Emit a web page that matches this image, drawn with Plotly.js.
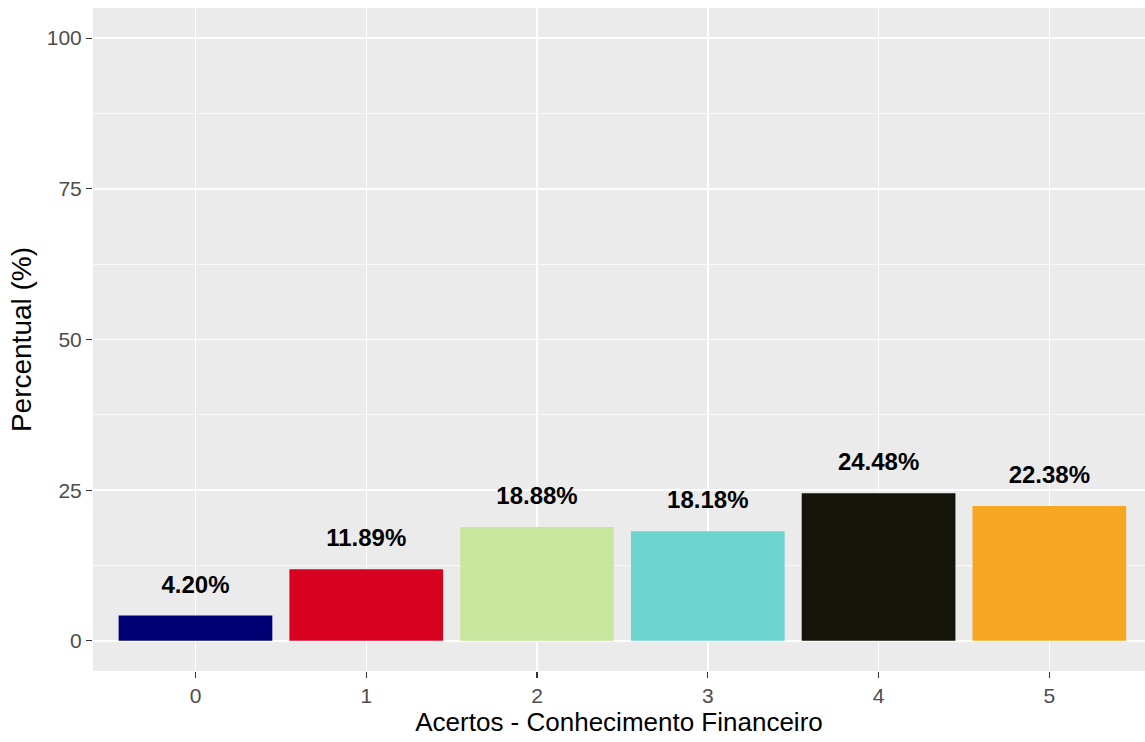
<!DOCTYPE html>
<html>
<head>
<meta charset="utf-8">
<script src="https://cdn.plot.ly/plotly-3.0.1.min.js"></script>
<style>html,body{margin:0;padding:0;background:#fff;}#chart{width:1145px;height:742px;}</style>
</head>
<body>
<div id="chart"></div>
<script>
const categories = ["0", "1", "2", "3", "4", "5"];
const percentValues = [4.20, 11.89, 18.88, 18.18, 24.48, 22.38];
const barLabels = ["4.20%", "11.89%", "18.88%", "18.18%", "24.48%", "22.38%"];
const barColors = ["#000075", "#D7001F", "#C8E69E", "#6DD3CE", "#14140A", "#F7A623"];
const yTicks = [0, 25, 50, 75, 100];
const labelOffset = 4.8;

const bars = {
  type: "bar",
  x: categories.map(Number),
  y: percentValues,
  width: 0.9,
  marker: {color: barColors, line: {width: 0}},
  hoverinfo: "x+y",
  showlegend: false
};
const labels = {
  type: "scatter",
  mode: "text",
  x: categories.map(Number),
  y: percentValues.map(v => v + labelOffset),
  text: barLabels,
  textposition: "middle center",
  textfont: {family: "Liberation Sans, Arial, sans-serif", size: 24, color: "#000000", weight: "bold"},
  hoverinfo: "skip",
  showlegend: false
};

const layout = {
  width: 1145, height: 742,
  margin: {l: 93, r: 0, t: 8, b: 71},
  paper_bgcolor: "#FFFFFF",
  plot_bgcolor: "#EBEBEB",
  font: {family: "Liberation Sans, Arial, sans-serif"},
  xaxis: {
    range: [-0.6, 5.56],
    tickvals: categories.map(Number),
    ticktext: categories,
    showgrid: true, gridcolor: "#FFFFFF", gridwidth: 1.4,
    zeroline: false,
    ticks: "outside", ticklen: 6, tickwidth: 1.2, tickcolor: "#333333",
    tickfont: {size: 21, color: "#4D4D4D"},
    title: {text: "Acertos - Conhecimento Financeiro", font: {size: 26, color: "#000000"}, standoff: 2},
    showline: false
  },
  yaxis: {
    range: [-5, 105],
    tickvals: yTicks,
    showgrid: true, gridcolor: "#FFFFFF", gridwidth: 1.4,
    minor: {dtick: 12.5, tick0: 12.5, showgrid: true, gridcolor: "#FFFFFF", gridwidth: 0.7},
    zeroline: false,
    ticks: "outside", ticklen: 6, tickwidth: 1.2, tickcolor: "#333333",
    tickfont: {size: 21, color: "#4D4D4D"},
    title: {text: "Percentual (%)", font: {size: 28, color: "#000000"}, standoff: 6},
    showline: false
  },
  bargap: 0.1
};

Plotly.newPlot("chart", [bars, labels], layout, {displayModeBar: false, staticPlot: true});
</script>
</body>
</html>
